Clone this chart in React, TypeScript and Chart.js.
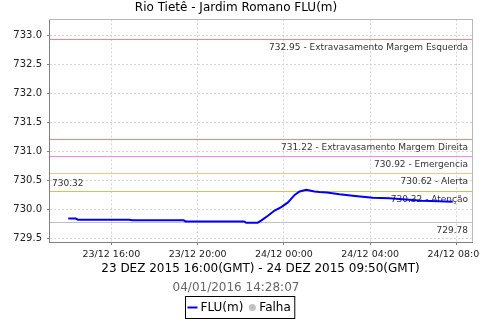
import React, { useEffect, useRef } from 'react';
import { Chart, registerables } from 'chart.js';

Chart.register(...registerables);

const TITLE = 'Rio Tietê - Jardim Romano FLU(m)';
const PERIOD = '23 DEZ 2015 16:00(GMT) - 24 DEZ 2015 09:50(GMT)';
const GENERATED = '04/01/2016 14:28:07';
const SERIES_NAME = 'FLU(m)';
const FAIL_NAME = 'Falha';

// hours counted from 23/12 00:00 (local axis time)
const FLU_HOURS = [
  14.0, 14.35, 14.45, 16.85, 16.95, 19.35, 19.45, 22.15, 22.25, 22.79,
  22.96, 23.26, 23.57, 23.88, 24.19, 24.5, 24.73, 25.04, 25.42, 25.65,
  26.0, 26.58, 27.3, 28.12, 28.9, 29.66, 30.4, 31.2, 31.83,
];
const FLU_VALUES = [
  729.84, 729.84, 729.82, 729.82, 729.81, 729.81, 729.79, 729.79, 729.77, 729.77,
  729.81, 729.89, 729.98, 730.04, 730.12, 730.25, 730.31, 730.34, 730.31, 730.3,
  730.29, 730.26, 730.23, 730.2, 730.19, 730.17, 730.15, 730.14, 730.13,
];

const X_TICKS = [16, 20, 24, 28, 32];
const X_TICK_LABELS = ['23/12 16:00', '23/12 20:00', '24/12 00:00', '24/12 04:00', '24/12 08:00'];
const Y_TICKS = [729.5, 730.0, 730.5, 731.0, 731.5, 732.0, 732.5, 733.0];
const Y_TICK_LABELS = ['729.5', '730.0', '730.5', '731.0', '731.5', '732.0', '732.5', '733.0'];

const THRESHOLD_VALUES = [732.95, 731.22, 730.92, 730.62, 730.32, 729.78];
const THRESHOLD_NAMES = [
  'Extravasamento Margem Esquerda',
  'Extravasamento Margem Direita',
  'Emergencia',
  'Alerta',
  'Atenção',
  '',
];
const THRESHOLD_COLORS = ['#ff8080', '#ff8080', '#ff80ff', '#ffc080', '#e0c040', '#c0c0c0'];
const MARK_VALUE = 730.32;

const X_MIN = 13.108;
const X_MAX = 32.725;
const Y_MIN = 729.435;
const Y_MAX = 733.285;

const FONT = '"DejaVu Sans", sans-serif';

const thresholdPlugin = {
  id: 'thresholds',
  beforeDatasetsDraw(chart: any) {
    const { ctx, chartArea } = chart;
    const ys = chart.scales.y;
    ctx.save();
    ctx.setLineDash([]);
    ctx.globalAlpha = 1;
    ctx.globalCompositeOperation = 'source-over';
    const left = Math.round(chartArea.left) + 1;
    const right = Math.round(chartArea.right);
    THRESHOLD_VALUES.forEach((v, i) => {
      const y = Math.round(ys.getPixelForValue(v));
      ctx.fillStyle = THRESHOLD_COLORS[i];
      ctx.fillRect(left, y, right - left, 1);
      const label = THRESHOLD_NAMES[i] ? `${v.toFixed(2)} - ${THRESHOLD_NAMES[i]}` : v.toFixed(2);
      ctx.font = `9px ${FONT}`;
      ctx.fillStyle = '#333';
      ctx.textAlign = 'right';
      ctx.textBaseline = 'middle';
      ctx.fillText(label, chartArea.right - 4, y + 8.5);
    });
    const my = Math.round(ys.getPixelForValue(MARK_VALUE));
    ctx.textAlign = 'left';
    ctx.fillText(MARK_VALUE.toFixed(2), chartArea.left + 3, my - 7.5);
    ctx.restore();
  },
  afterDraw(chart: any) {
    const { ctx, chartArea } = chart;
    ctx.save();
    ctx.setLineDash([]);
    ctx.fillStyle = '#b8b8b8';
    const top = Math.round(chartArea.top);
    const right = Math.round(chartArea.right);
    ctx.fillRect(Math.round(chartArea.left), top, right - Math.round(chartArea.left) + 1, 1);
    ctx.fillRect(right, top, 1, Math.round(chartArea.bottom) - top);

    // legend box
    const ds = chart.data.datasets;
    ctx.font = `12px ${FONT}`;
    ctx.textBaseline = 'middle';
    ctx.textAlign = 'left';
    const w0 = ctx.measureText(ds[0].label).width;
    const w1 = ctx.measureText(ds[1].label).width;
    const totalW = 2 + 10 + 3 + w0 + 5 + 8 + 3 + w1 + 4;
    const bx = Math.round(chart.width / 2 - totalW / 2) + 0.5;
    const by = chart.height - 23.5;
    const bh = 22;
    ctx.strokeStyle = '#000';
    ctx.lineWidth = 1;
    ctx.strokeRect(bx, by, totalW, bh);
    const cy = by + bh / 2;
    let x = bx + 2;
    ctx.strokeStyle = ds[0].borderColor;
    ctx.lineWidth = 2;
    ctx.beginPath();
    ctx.moveTo(x, cy);
    ctx.lineTo(x + 10, cy);
    ctx.stroke();
    x += 13;
    ctx.fillStyle = '#000';
    ctx.fillText(ds[0].label, x, cy);
    x += w0 + 5;
    ctx.fillStyle = ds[1].backgroundColor;
    ctx.beginPath();
    ctx.arc(x + 4, cy, 3.5, 0, Math.PI * 2);
    ctx.fill();
    x += 11;
    ctx.fillStyle = '#000';
    ctx.fillText(ds[1].label, x, cy);
    ctx.restore();
  },
};

export default function App() {
  const ref = useRef<HTMLCanvasElement>(null);
  useEffect(() => {
    if (!ref.current) return;
    const chart = new Chart(ref.current, {
      type: 'line',
      data: {
        datasets: [
          {
            label: SERIES_NAME,
            data: FLU_HOURS.map((h, i) => ({ x: h, y: FLU_VALUES[i] })),
            borderColor: '#0000ff',
            backgroundColor: '#0000ff',
            borderWidth: 2,
            pointRadius: 0,
            tension: 0,
          },
          {
            label: FAIL_NAME,
            data: [],
            borderColor: '#c0c0c0',
            backgroundColor: '#c0c0c0',
            pointRadius: 0,
          },
        ],
      },
      plugins: [thresholdPlugin],
      options: {
        responsive: false,
        animation: false,
        events: [],
        layout: { padding: { left: 0, right: 8, top: 0, bottom: 22.6 } },
        plugins: {
          legend: { display: false },
          tooltip: { enabled: false },
          title: {
            display: true,
            text: TITLE,
            color: '#000',
            font: { family: FONT, size: 12, weight: 'normal' },
            padding: { top: 1, bottom: 4 },
          },
          subtitle: {
            display: true,
            position: 'bottom',
            text: GENERATED,
            color: '#666',
            font: { family: FONT, size: 12, weight: 'normal' },
            padding: { top: 3, bottom: 2 },
          },
        },
        scales: {
          x: {
            type: 'linear',
            min: X_MIN,
            max: X_MAX,
            afterBuildTicks: (s: any) => {
              s.ticks = X_TICKS.map((v) => ({ value: v }));
            },
            afterFit: (s: any) => {
              s.height = 36;
              s.paddingLeft = 0;
              s.paddingRight = 0;
            },
            ticks: {
              autoSkip: false,
              maxRotation: 0,
              padding: 4,
              color: '#222',
              font: { family: FONT, size: 9.5 },
              callback: (_v: any, i: number) => X_TICK_LABELS[i],
            },
            grid: { color: '#d4d4d4', tickColor: '#808080', tickLength: 3 },
            border: { color: '#808080', dash: [2, 2] },
            title: {
              display: true,
              text: PERIOD,
              color: '#000',
              font: { family: FONT, size: 12 },
              padding: { top: 0, bottom: 2 },
            },
          },
          y: {
            type: 'linear',
            min: Y_MIN,
            max: Y_MAX,
            afterBuildTicks: (s: any) => {
              s.ticks = Y_TICKS.map((v) => ({ value: v }));
            },
            afterFit: (s: any) => {
              s.width = 49;
              s.paddingTop = 0;
              s.paddingBottom = 0;
            },
            ticks: {
              padding: 5,
              color: '#222',
              font: { family: FONT, size: 10 },
              callback: (_v: any, i: number) => Y_TICK_LABELS[i],
            },
            grid: { color: '#d4d4d4', tickColor: '#808080', tickLength: 2 },
            border: { color: '#808080', dash: [2, 2] },
          },
        },
      },
    });
    return () => chart.destroy();
  }, []);
  return (
    <div style={{ position: 'absolute', left: 0, top: 0, width: 480, height: 320, background: '#fff' }}>
      <canvas ref={ref} width={480} height={320} style={{ display: 'block' }} />
    </div>
  );
}
